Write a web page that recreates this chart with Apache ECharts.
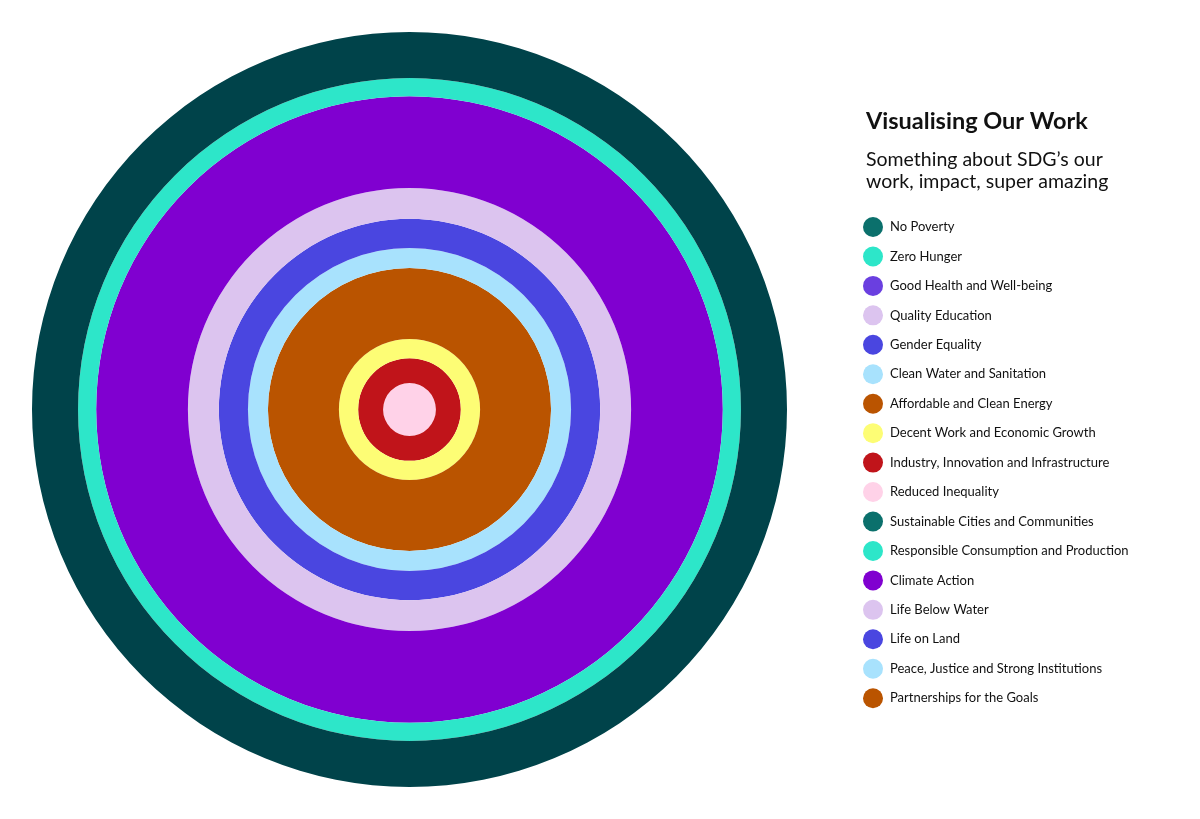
<!DOCTYPE html>
<html>
<head>
<meta charset="utf-8">
<script src="https://cdn.jsdelivr.net/npm/echarts@6/dist/echarts.min.js"></script>
<style>
html,body{margin:0;padding:0;background:#fff;}
#chart{width:1200px;height:819px;}
</style>
</head>
<body>
<div id="chart"></div>
<script>
// SDG names (legend order)
const sdgNames = [
  'No Poverty', 'Zero Hunger', 'Good Health and Well-being', 'Quality Education',
  'Gender Equality', 'Clean Water and Sanitation', 'Affordable and Clean Energy',
  'Decent Work and Economic Growth', 'Industry, Innovation and Infrastructure',
  'Reduced Inequality', 'Sustainable Cities and Communities',
  'Responsible Consumption and Production', 'Climate Action', 'Life Below Water',
  'Life on Land', 'Peace, Justice and Strong Institutions', 'Partnerships for the Goals'
];
const sdgColors = [
  '#0b706c', '#2de6c9', '#6a3fe0', '#dcc4ef', '#4a46e0', '#a8e2fd', '#ba5400',
  '#fdfd75', '#c0141a', '#ffd2e8', '#0b706c', '#2de6c9', '#8000d0', '#dcc4ef',
  '#4a46e0', '#a8e2fd', '#ba5400'
];
// circle radius per SDG (share of the outer disc, %); null = not visible in chart
const sdgRadius = [
  null, null, null, null, null, null, null,
  18.7, 13.6, 7.0, null,
  87.8, 83.0, 58.7, 50.5, 42.8, 37.5
];
const backdropRadius = 100;
const backdropColor = '#00434a';

const chart = echarts.init(document.getElementById('chart'), null, {renderer: 'canvas'});

// build stacked ring thicknesses from the circle radii (inner to outer)
const visible = sdgNames.map((n, i) => i)
  .filter(i => sdgRadius[i] !== null)
  .sort((a, b) => sdgRadius[a] - sdgRadius[b]);
const hidden = sdgNames.map((n, i) => i).filter(i => sdgRadius[i] === null);

const barBase = {
  type: 'bar', coordinateSystem: 'polar', stack: 'rings',
  barWidth: '100%', silent: true, animation: false
};

const series = [];
let prev = 0;
visible.forEach(i => {
  series.push(Object.assign({}, barBase, {
    name: sdgNames[i],
    data: [sdgRadius[i] - prev],
    itemStyle: {color: sdgColors[i]}
  }));
  prev = sdgRadius[i];
});
hidden.forEach(i => {
  series.push(Object.assign({}, barBase, {
    name: sdgNames[i], data: [0], itemStyle: {color: sdgColors[i]}
  }));
});
series.push(Object.assign({}, barBase, {
  name: 'backdrop', data: [backdropRadius - prev], itemStyle: {color: backdropColor}
}));

chart.setOption({
  backgroundColor: '#ffffff',
  animation: false,
  title: {
    text: 'Visualising Our Work',
    subtext: 'Something about SDG\u2019s our\nwork, impact, super amazing',
    left: 866, top: 109, padding: 0,
    itemGap: 16,
    textStyle: {fontFamily: 'Lato', fontSize: 23.5, fontWeight: 'bold', color: '#111111'},
    subtextStyle: {fontFamily: 'Lato', fontSize: 19.5, lineHeight: 22, color: '#111111'}
  },
  legend: {
    orient: 'vertical', left: 863, top: 217, padding: 0,
    icon: 'circle', itemWidth: 20, itemHeight: 20, itemGap: 9.45,
    data: sdgNames,
    selectedMode: false,
    textStyle: {fontFamily: 'Lato', fontSize: 13, color: '#111111', padding: [0, 0, 0, 2]}
  },
  polar: {center: [409.5, 409.5], radius: 377.5},
  angleAxis: {
    type: 'category', data: ['SDG'], startAngle: 90,
    axisLine: {show: false}, axisTick: {show: false}, axisLabel: {show: false},
    splitLine: {show: false}
  },
  radiusAxis: {
    type: 'value', min: 0, max: backdropRadius,
    axisLine: {show: false}, axisTick: {show: false}, axisLabel: {show: false},
    splitLine: {show: false}
  },
  series: series
});
</script>
</body>
</html>
